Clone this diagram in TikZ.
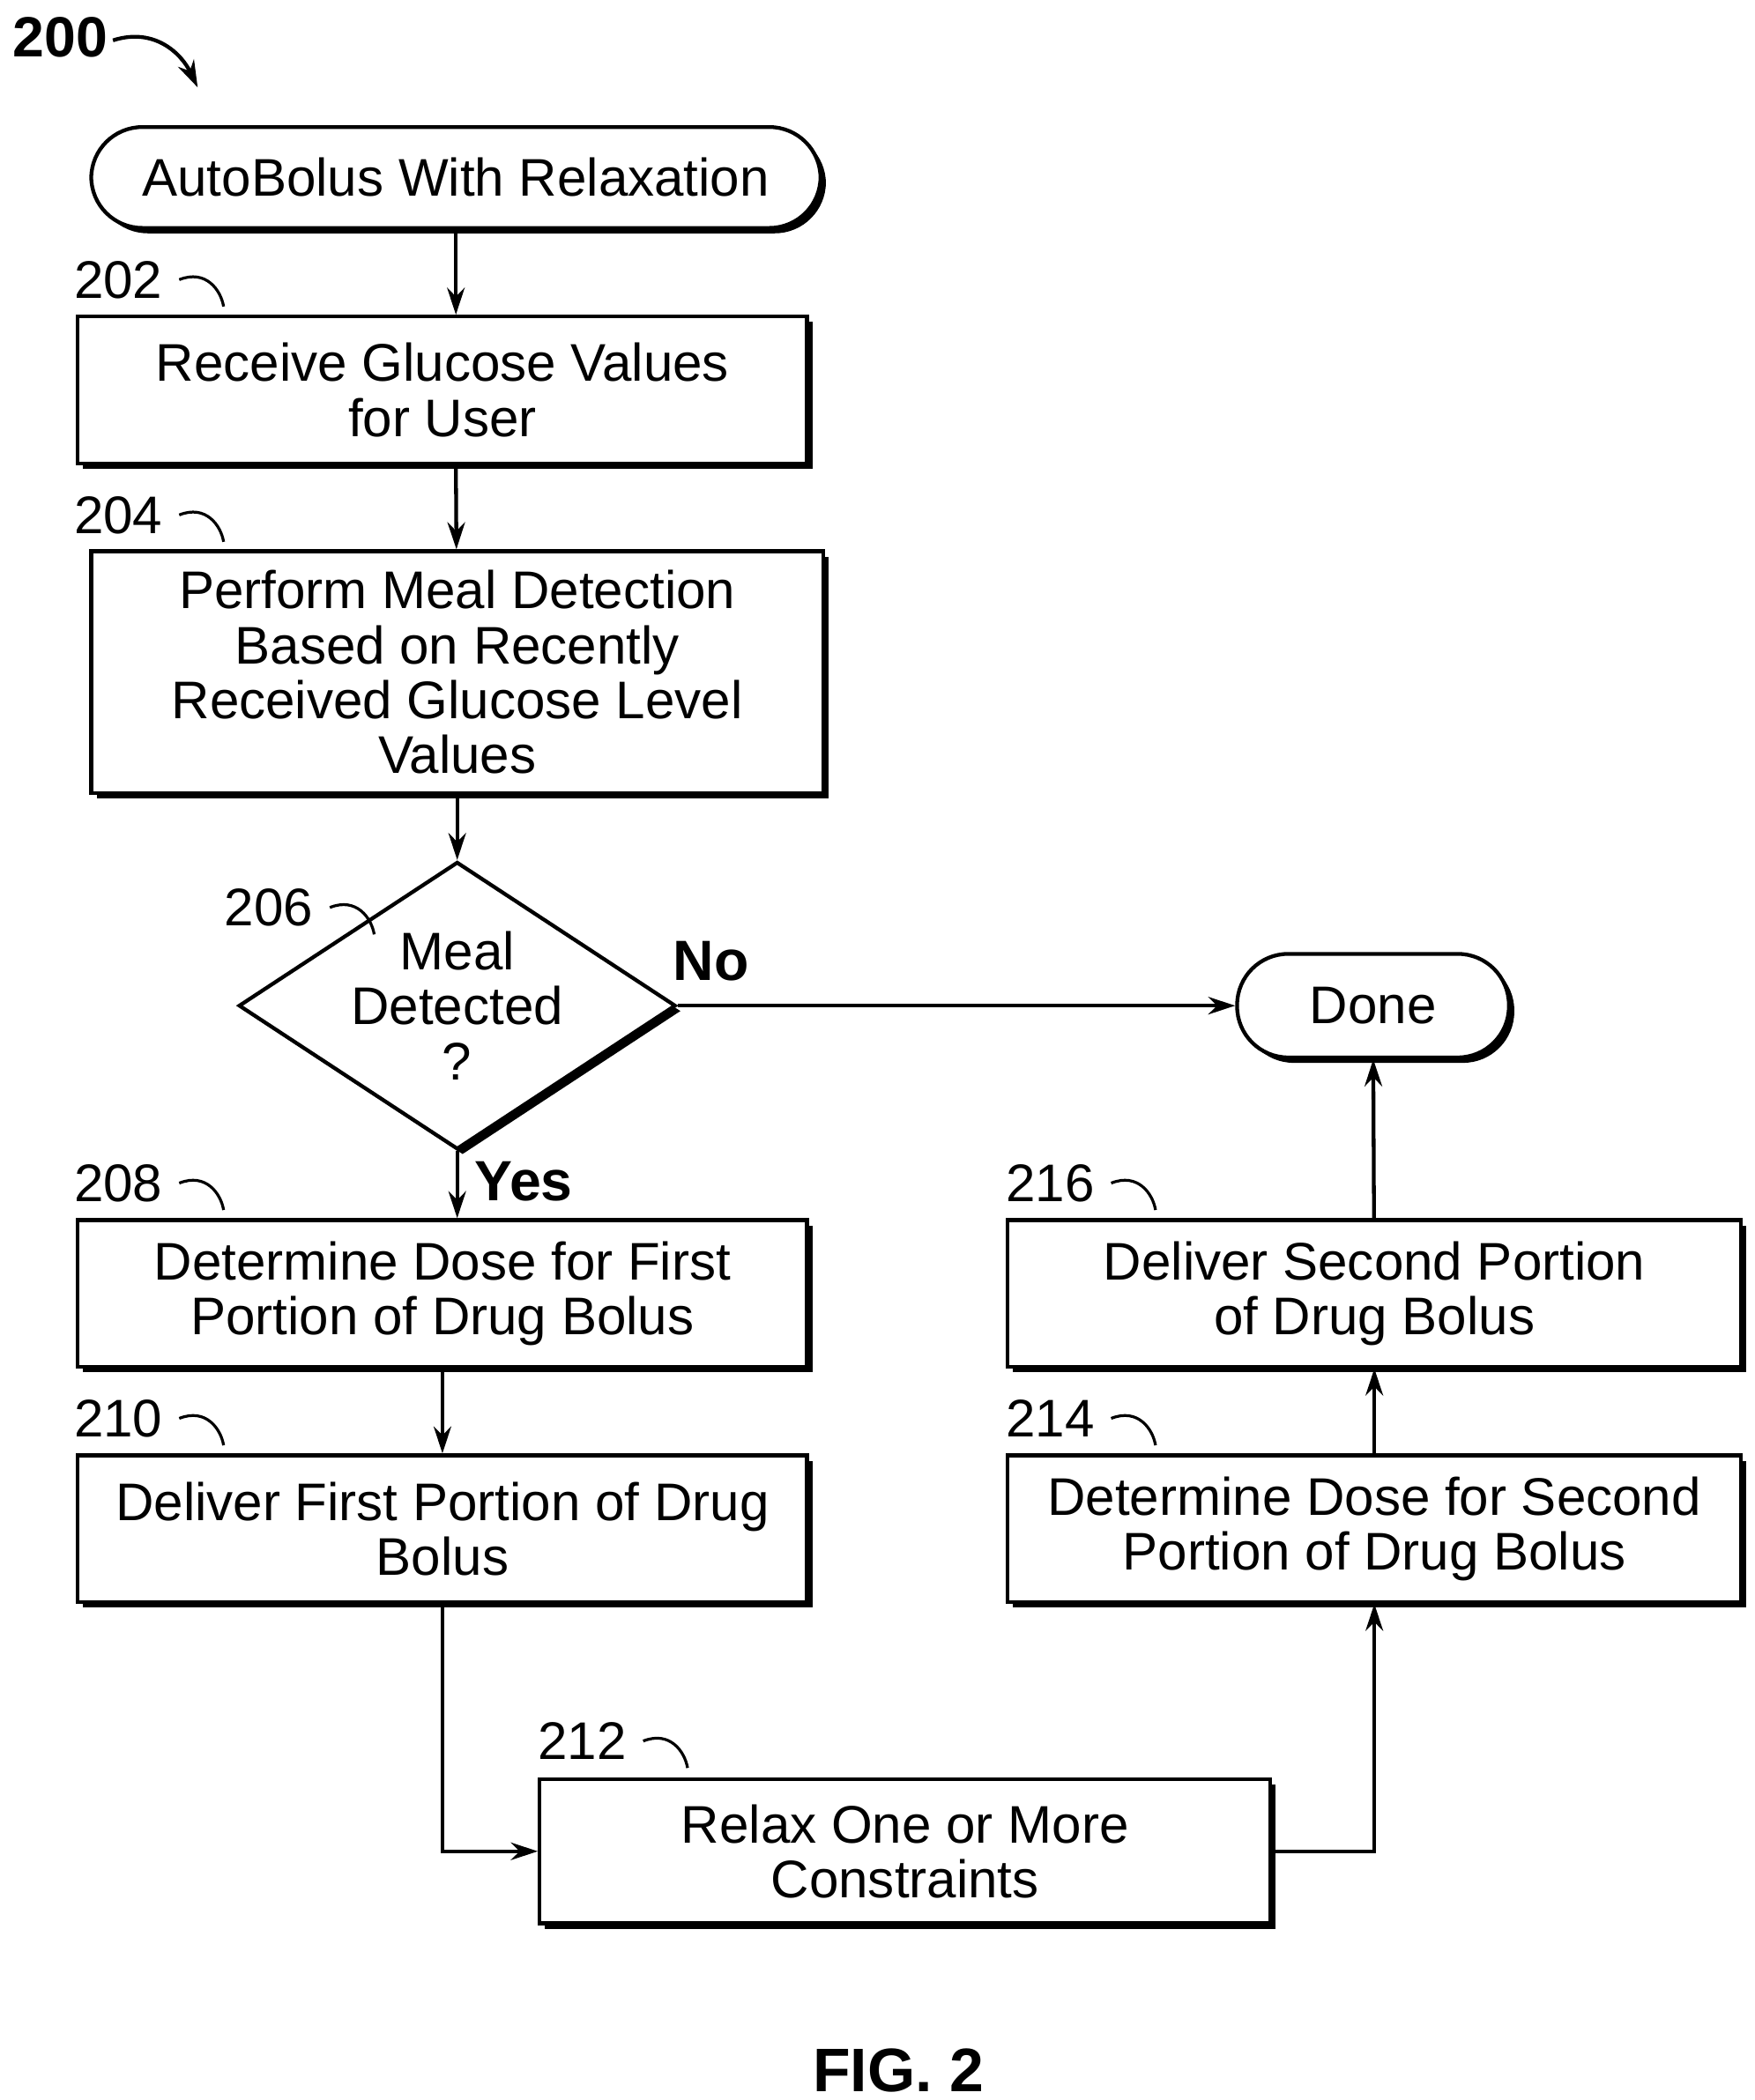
\documentclass[tikz,border=0pt]{standalone}
\usepackage{fontspec}
\setmainfont{Liberation Sans}
\usetikzlibrary{shapes.geometric,shadows,arrows.meta}
\begin{document}
\begin{tikzpicture}[x=0.01cm,y=-0.01cm,
	every node/.style={font=\fontsize{11.2}{11.6}\selectfont},
	shade/.style={drop shadow={shadow xshift=0.04cm,shadow yshift=-0.04cm,fill=black,opacity=1}},
	box/.style={draw,fill=white,line width=0.8pt,shade,align=center,inner sep=0pt},
	term/.style={box,rounded corners=0.38cm},
	dia/.style={draw,fill=white,line width=0.8pt,shade,diamond,aspect=1.52,align=center,inner sep=0pt,minimum width=2.82cm,minimum height=1.85cm},
	ref/.style={anchor=base},
	line/.style={line width=0.8pt},
	arr/.style={line,-{Stealth[length=0.2cm,width=0.13cm]}},
	squig/.style={line width=0.6pt}]
	\useasboundingbox (0,0) rectangle (1305,1562);
	% title reference
	\node[font=\fontsize{12}{12}\bfseries\selectfont] (fig) at (45,28) {200};
	\draw[arr] (84,30) .. controls (115,20) and (135,40) .. (147,65);
	% boxes
	\node[term,minimum width=5.42cm,minimum height=0.75cm] (start) at (339,132) {AutoBolus With Relaxation};
	\node[box,minimum width=5.42cm,minimum height=1.09cm] (recv) at (329,290) {Receive Glucose Values\\for User};
	\node[box,minimum width=5.44cm,minimum height=1.8cm] (meal) at (340,500) {Perform Meal Detection\\Based on Recently\\Received Glucose Level\\Values};
	\node[dia] (det) at (340,748) {Meal\\Detected\\?};
	\node[term,minimum width=2.02cm,minimum height=0.77cm] (done) at (1021,748) {Done};
	\node[box,minimum width=5.42cm,minimum height=1.09cm] (first) at (329,962) {Determine Dose for First\\Portion of Drug Bolus};
	\node[box,minimum width=5.42cm,minimum height=1.09cm] (dfirst) at (329,1137) {Deliver First Portion of Drug\\Bolus};
	\node[box,minimum width=5.43cm,minimum height=1.07cm] (relax) at (673,1377) {Relax One or More\\Constraints};
	\node[box,minimum width=5.45cm,minimum height=1.09cm] (second) at (1022,1137) {Determine Dose for Second\\Portion of Drug Bolus};
	\node[box,minimum width=5.45cm,minimum height=1.09cm] (dsecond) at (1022,962) {Deliver Second Portion\\of Drug Bolus};
	% reference numbers
	\foreach \n/\x/\y in {202/88/208, 204/88/383, 206/200/675, 208/88/880, 210/88/1055, 212/433/1295, 214/781/1055, 216/781/880} {
		\node (r\n) at (\x,\y) {\n};
		\draw[squig] (r\n.east) .. controls +(20,-8) and +(-2,-12) .. +(33,20);
	}
	% connectors
	\draw[arr] (start) -- (recv.north -| start);
	\draw[arr] (recv.south -| start) -- (meal);
	\draw[arr] (meal) -- (det);
	\draw[arr] (det.east) -- node[pos=0.06,above,font=\fontsize{12}{12}\bfseries\selectfont,yshift=0.05cm]{No} (done.west);
	\draw[arr] (det.south) -- node[pos=0.45,right,font=\fontsize{12}{12}\bfseries\selectfont]{Yes} (first.north -| det);
	\draw[arr] (first) -- (dfirst);
	\draw[arr] (dfirst.south) |- (relax.west);
	\draw[arr] (relax.east) -| (second.south);
	\draw[arr] (second) -- (dsecond);
	\draw[arr] (dsecond) -- (done);
	\node[font=\fontsize{13}{13}\bfseries\selectfont] (cap) at (668,1540) {FIG. 2};
\end{tikzpicture}
\end{document}
